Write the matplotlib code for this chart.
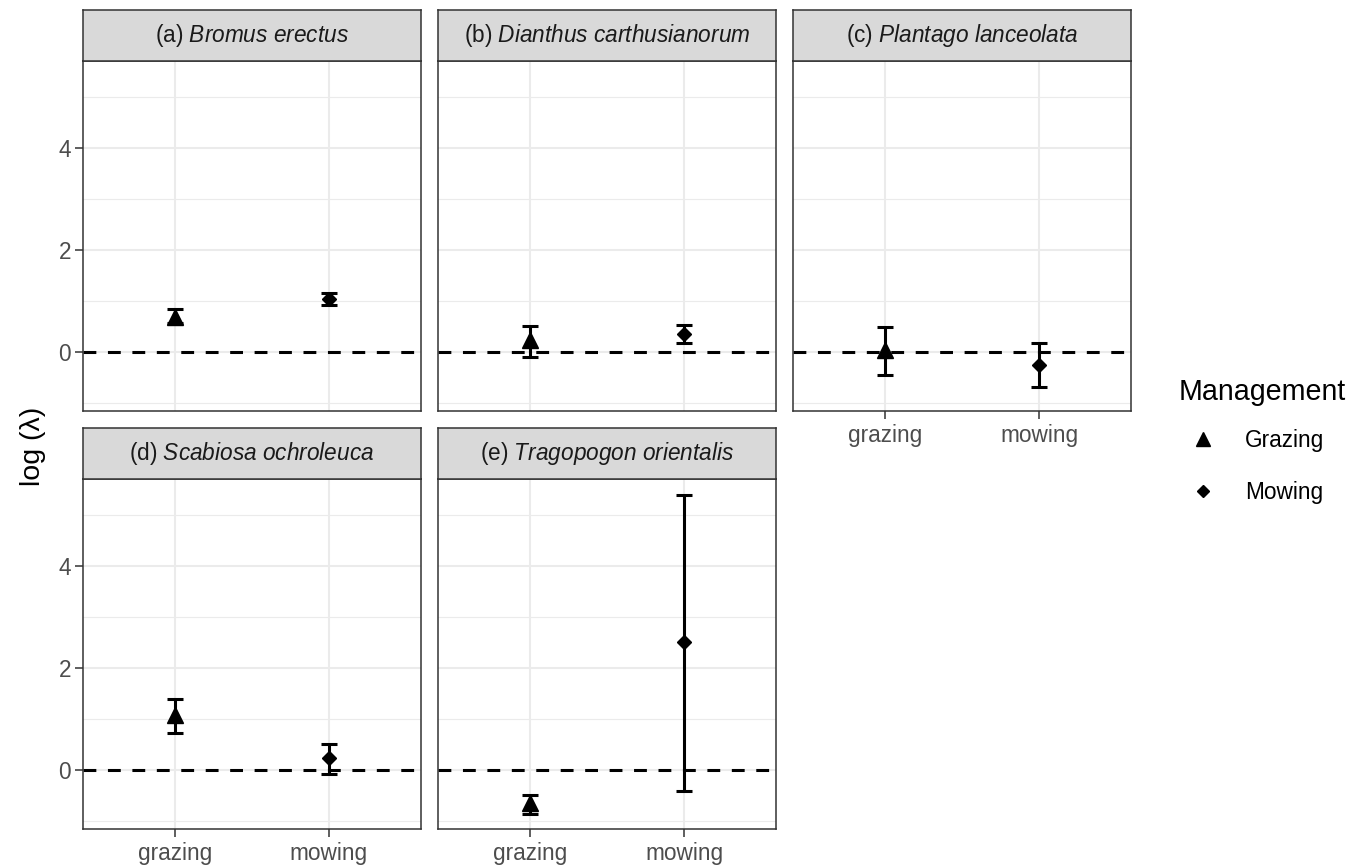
"""
Faceted point/error-bar chart of log(lambda) by management type per species.
"""
import matplotlib
matplotlib.use("Agg")
import matplotlib.pyplot as plt
from matplotlib.lines import Line2D
from matplotlib.ticker import FixedLocator

plt.rcParams["font.family"] = ["Liberation Sans", "DejaVu Sans"]
plt.rcParams["mathtext.fontset"] = "custom"
plt.rcParams["mathtext.rm"] = "Liberation Sans"
plt.rcParams["mathtext.it"] = "Liberation Sans:italic"

# Data
letters = ["a", "b", "c", "d", "e"]
species = ["Bromus erectus", "Dianthus carthusianorum", "Plantago lanceolata",
           "Scabiosa ochroleuca", "Tragopogon orientalis"]
categories = ["grazing", "mowing"]
grazing_mean = [0.68, 0.23, 0.03, 1.07, -0.66]
grazing_lo = [0.56, -0.10, -0.45, 0.72, -0.87]
grazing_hi = [0.84, 0.51, 0.48, 1.39, -0.49]
mowing_mean = [1.03, 0.35, -0.26, 0.22, 2.50]
mowing_lo = [0.92, 0.17, -0.69, -0.08, -0.41]
mowing_hi = [1.15, 0.53, 0.17, 0.50, 5.39]
y_major = [0, 2, 4]
y_minor = [-1, 1, 3, 5]

W, H = 1364, 865
fig = plt.figure(figsize=(W / 100, H / 100), dpi=100)

col_left = [83, 438.3, 793.3]
panel_w = 338
row_top = [61, 479]
panel_h = 350
strip_h = 51

GRID = "#EBEBEB"
BORDER = "#333333"

# shared y range (ggplot-style 5% expansion)
all_lo = min(grazing_lo + mowing_lo)
all_hi = max(grazing_hi + mowing_hi)
span = all_hi - all_lo
ylim = (all_lo - 0.047 * span, all_hi + 0.05 * span)

for i in range(5):
    r, c = divmod(i, 3)
    left = col_left[c] / W
    bottom = 1 - (row_top[r] + panel_h) / H
    ax = fig.add_axes([left, bottom, panel_w / W, panel_h / H])
    sax = fig.add_axes([left, 1 - row_top[r] / H, panel_w / W, strip_h / H])

    # strip
    sax.set_facecolor("#D9D9D9")
    sax.set_xticks([])
    sax.set_yticks([])
    for sp in sax.spines.values():
        sp.set_color(BORDER)
        sp.set_linewidth(1.1)
    name = species[i].replace(" ", r"\ ")
    sax.text(0.5, 0.5, f"({letters[i]}) $\\mathit{{{name}}}$", ha="center", va="center",
             fontsize=16.3, color="#1A1A1A", transform=sax.transAxes)

    # panel
    ax.set_xlim(0.4, 2.6)
    ax.set_ylim(*ylim)
    ax.yaxis.set_major_locator(FixedLocator(y_major))
    ax.yaxis.set_minor_locator(FixedLocator(y_minor))
    ax.set_xticks([1, 2])
    ax.grid(True, which="major", color=GRID, linewidth=1.5, zorder=0)
    ax.grid(True, which="minor", axis="y", color=GRID, linewidth=0.8, zorder=0)
    ax.set_axisbelow(True)
    for sp in ax.spines.values():
        sp.set_color(BORDER)
        sp.set_linewidth(1.1)
    ax.tick_params(which="minor", length=0)
    ax.tick_params(which="major", length=5.5, width=1.1, color=BORDER,
                   labelsize=16.3, labelcolor="#4D4D4D", pad=3)
    ax.tick_params(axis="x", pad=4)

    show_x = (r == 1) or (c == 2)
    show_y = c == 0
    if show_x:
        ax.set_xticklabels(categories)
    else:
        ax.tick_params(axis="x", length=0, labelbottom=False)
    if not show_y:
        ax.tick_params(axis="y", length=0, labelleft=False)

    ax.axhline(0, color="black", linewidth=2.2, dashes=(4.2, 3.8), zorder=2)

    ax.errorbar([1], [grazing_mean[i]],
                yerr=[[grazing_mean[i] - grazing_lo[i]], [grazing_hi[i] - grazing_mean[i]]],
                fmt="none", ecolor="black", elinewidth=2.2, capsize=6, capthick=2.2, zorder=3)
    ax.errorbar([2], [mowing_mean[i]],
                yerr=[[mowing_mean[i] - mowing_lo[i]], [mowing_hi[i] - mowing_mean[i]]],
                fmt="none", ecolor="black", elinewidth=2.2, capsize=6, capthick=2.2, zorder=3)
    ax.plot([1], [grazing_mean[i]], marker="^", color="black", markersize=11,
            linestyle="none", zorder=4)
    ax.plot([2], [mowing_mean[i]], marker="D", color="black", markersize=7.5,
            linestyle="none", zorder=4)

fig.text(33 / W, 1 - 446 / H, "log (λ)", rotation=90, ha="center", va="center",
         fontsize=20.5, color="black")

handles = [
    Line2D([], [], marker="^", color="black", linestyle="none", markersize=10),
    Line2D([], [], marker="D", color="black", linestyle="none", markersize=6),
]
leg = fig.legend(handles, ["Grazing", "Mowing"], title="Management",
                 loc="upper left", bbox_to_anchor=(1170 / W, 1 - 369 / H),
                 frameon=False, fontsize=16.3, title_fontsize=20.6,
                 alignment="left", handletextpad=0.8, labelspacing=1.3,
                 borderaxespad=0, handlelength=2.1)
leg._legend_box.sep = 16.5  # tighter gap between title and entries

fig.savefig("out.png", dpi=100)
